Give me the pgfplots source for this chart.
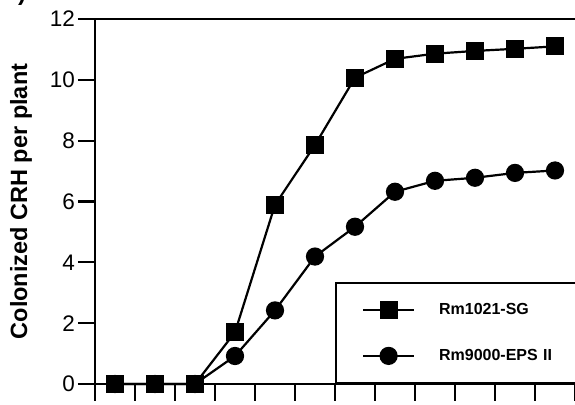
\documentclass[border=0pt]{standalone}
\usepackage{pgfplots}
\pgfplotsset{compat=1.18}
\usepackage{fontspec}
\setmainfont{Liberation Sans}
\begin{document}
\begin{tikzpicture}
\begin{axis}[
  at={(95pt,20pt)}, anchor=south west,
  scale only axis, width=480pt, height=365pt,
  xmin=-0.5, xmax=11.5, ymin=0, ymax=12,
  axis lines=left,
  axis line style={-, line width=2.2pt},
  xtick={-0.5,0.5,...,11.5}, xticklabels={},
  ytick={0,2,...,12},
  tick align=outside,
  major tick length=17pt,
  tick style={line width=2.2pt, black},
  /pgf/number format/assume math mode=true,
  yticklabel style={font=\fontsize{22.5}{24}\selectfont, inner sep=3pt},
  ylabel={Colonized CRH per plant},
  every axis y label/.style={at={(axis description cs:-0.154,0.5)}, rotate=90, anchor=center, font=\fontsize{23.5}{26}\selectfont\bfseries},
  clip=false,
  legend cell align=left,
  reverse legend,
  legend image code/.code={
    \path[draw=none] (-27pt,-23pt) rectangle (76pt,23pt);
    \draw[line width=2.2pt] (0pt,0pt) -- (51pt,0pt);
    \draw plot coordinates {(25.5pt,0pt)};
  },
  legend style={at={(axis cs:5.5,0)}, anchor=south west, draw=black, line width=2.2pt,
    inner xsep=0pt, inner ysep=4pt, row sep=0pt,
    nodes={draw=none, inner sep=0pt, text width=200pt, font=\fontsize{16}{18}\selectfont\bfseries}},
]
\addplot[black, line width=2.2pt, mark=*, mark size=8pt] coordinates {
 (0,0) (1,0) (2,0) (3,0.92) (4,2.42) (5,4.19) (6,5.17) (7,6.32) (8,6.68) (9,6.78) (10,6.94) (11,7.02)};
\addplot[black, line width=2.2pt, mark=square*, mark size=7.8pt] coordinates {
 (0,0) (1,0) (2,0) (3,1.70) (4,5.89) (5,7.86) (6,10.07) (7,10.69) (8,10.86) (9,10.95) (10,11.02) (11,11.10)};
\legend{Rm9000-EPS II, Rm1021-SG}
\draw[line width=2.2pt] (axis cs:-0.5,12) -- (axis cs:11.5,12);
\end{axis}
\node[overlay, anchor=base, font=\fontsize{24}{26}\selectfont\bfseries] at (22pt,403pt) {)};
\pgfresetboundingbox
\path[use as bounding box] (0pt,0pt) rectangle (575pt,404pt);
\end{tikzpicture}
\end{document}
